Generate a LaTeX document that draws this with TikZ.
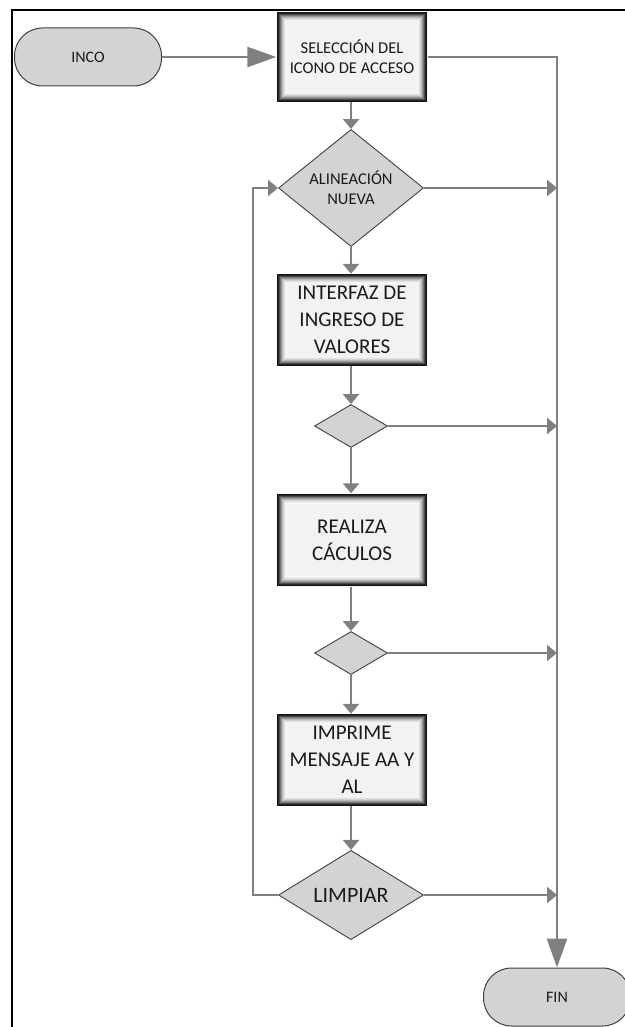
\documentclass[tikz,border=0pt]{standalone}
\usepackage{fontspec}
\setmainfont{Carlito}
\usetikzlibrary{shapes.geometric,arrows.meta}
\definecolor{linegray}{HTML}{808080}
\definecolor{shapegray}{HTML}{D3D3D3}
\definecolor{edgegray}{HTML}{404040}
\definecolor{txt}{HTML}{1A1A1A}
\tikzset{
  conn/.style={draw=linegray, line width=2.5pt},
  smalltip/.style={-{Triangle[length=10pt,width=16pt]}},
  bigtip/.style={-{Triangle[length=29pt,width=20pt]}},
  terminal/.style={rectangle, rounded corners=28pt, fill=shapegray, draw=edgegray,
    line width=1pt, minimum width=147pt, minimum height=58pt, text=txt,
    font=\fontsize{16}{20}\selectfont},
  decision/.style={diamond, fill=shapegray, draw=edgegray, line width=0.9pt,
    inner sep=0pt, text=txt, align=center},
  procbox/.style={rectangle, fill=white!95!black, inner sep=0pt, text=txt, align=center,
    minimum width=150pt,
    path picture={
      \foreach \i/\c in {0.6/92,1.6/85,2.6/70,3.6/54,4.6/40,5.6/28,6.6/18,7.6/11,8.6/6,9.6/3}{
        \draw[black!\c!white, line width=1.1pt]
          ([shift={(\i pt,\i pt)}]path picture bounding box.south west) rectangle
          ([shift={(-\i pt,-\i pt)}]path picture bounding box.north east);
      }
    }},
  bigtext/.style={font=\fontsize{21}{27}\selectfont},
  smalltext/.style={font=\fontsize{16.5}{20}\selectfont}
}
\begin{document}
\begin{tikzpicture}[x=1pt,y=-1pt]
\useasboundingbox (0,0) rectangle (624,1027);
\draw[black, line width=2.5pt] (12,1030) -- (12,10) -- (630,10);

\node[terminal] (start) at (88,57) {INCO};
\node[procbox, smalltext, minimum width=151pt, minimum height=90pt] (s1) at (352,57) {SELECCIÓN DEL\\ICONO DE ACCESO};
\node[decision, smalltext, minimum width=145pt, minimum height=88pt] (d1) at (351,188) {ALINEACIÓN\\NUEVA};
\node[procbox, bigtext, minimum height=92pt] (b2) at (352,320) {INTERFAZ DE\\INGRESO DE\\VALORES};
\node[decision, minimum width=73pt, minimum height=43pt] (d2) at (351,426) {};
\node[procbox, bigtext, minimum height=93pt] (b3) at (352,540) {REALIZA\\CÁCULOS};
\node[decision, minimum width=73pt, minimum height=43pt] (d3) at (351,653) {};
\node[procbox, bigtext, minimum height=92pt] (b4) at (352,760) {IMPRIME\\MENSAJE AA Y\\AL};
\node[decision, font=\fontsize{22}{26}\selectfont, minimum width=145pt, minimum height=86pt] (d4) at (351,895) {LIMPIAR};
\node[terminal] (fin) at (557,997) {FIN};

\coordinate (r1) at (557,188);
\coordinate (r2) at (557,426);
\coordinate (r3) at (557,653);
\coordinate (r4) at (557,895);
\coordinate (l1) at (253,895);
\coordinate (l2) at (253,188);

\draw[conn, bigtip] (start) -- (s1);
\draw[conn, bigtip] (s1.east) -| (fin.north);
\draw[conn, smalltip] (s1.south -| d1.north) -- (d1.north);
\draw[conn, smalltip] (d1.east) -- (r1);
\draw[conn, smalltip] (d1.south) -- (d1.south |- b2.north);
\draw[conn, smalltip] (b2.south -| d2.north) -- (d2.north);
\draw[conn, smalltip] (d2.east) -- (r2);
\draw[conn, smalltip] (d2.south) -- (d2.south |- b3.north);
\draw[conn, smalltip] (b3.south -| d3.north) -- (d3.north);
\draw[conn, smalltip] (d3.east) -- (r3);
\draw[conn, smalltip] (d3.south) -- (d3.south |- b4.north);
\draw[conn, smalltip] (b4.south -| d4.north) -- (d4.north);
\draw[conn, smalltip] (d4.east) -- (r4);
\draw[conn, smalltip] (d4.west) -- (l1) -- (l2) -- (d1.west);
\end{tikzpicture}
\end{document}
